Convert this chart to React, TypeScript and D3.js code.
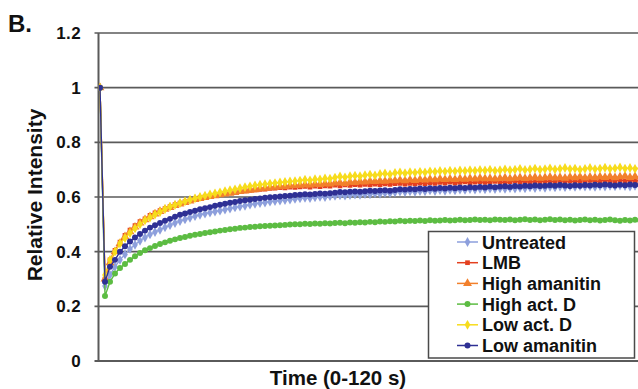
import React from "react";
import * as d3 from "d3";

// Relative intensity per frame (frame index 0..108)
const untreated = [1,
  .274,.315,.345,.37,.39,.41,.425,.44,.452,.463,
  .472,.48,.489,.497,.505,.512,.518,.524,.530,.535,
  .539,.543,.547,.550,.554,.558,.562,.565,.568,.572,
  .575,.578,.580,.583,.585,.587,.589,.591,.593,.595,
  .597,.596,.599,.601,.600,.603,.604,.606,.605,.607,
  .609,.608,.611,.610,.613,.612,.615,.614,.617,.620,
  .618,.621,.619,.622,.621,.624,.622,.625,.623,.626,
  .624,.627,.626,.629,.627,.630,.628,.631,.629,.632,
  .630,.633,.631,.634,.632,.635,.633,.636,.634,.637,
  .635,.638,.636,.639,.637,.640,.638,.639,.637,.640,
  .638,.641,.639,.642,.640,.638,.641,.640];
const lmb = [1,
  .30,.37,.405,.435,.46,.479,.495,.51,.52,.533,
  .542,.55,.558,.565,.572,.578,.583,.588,.593,.598,
  .601,.604,.607,.610,.613,.615,.618,.620,.622,.624,
  .626,.628,.629,.631,.632,.634,.633,.636,.635,.637,
  .639,.636,.640,.638,.641,.640,.643,.641,.644,.642,
  .645,.643,.646,.644,.647,.645,.648,.646,.649,.650,
  .647,.650,.648,.651,.649,.652,.650,.653,.651,.654,
  .651,.653,.655,.652,.654,.656,.653,.655,.657,.655,
  .653,.656,.658,.655,.657,.654,.658,.656,.659,.656,
  .658,.660,.657,.659,.656,.660,.658,.661,.657,.659,
  .661,.658,.660,.662,.659,.661,.658,.660];
const highAmanitin = [1,
  .30,.36,.40,.43,.455,.473,.49,.505,.517,.528,
  .538,.547,.555,.562,.569,.575,.580,.586,.591,.595,
  .598,.602,.605,.608,.611,.614,.617,.620,.622,.625,
  .627,.630,.632,.634,.636,.638,.639,.641,.642,.643,
  .645,.644,.647,.646,.649,.648,.651,.652,.650,.654,
  .653,.656,.655,.658,.657,.659,.658,.661,.660,.662,
  .660,.663,.661,.664,.662,.665,.663,.666,.664,.666,
  .664,.667,.665,.668,.666,.669,.667,.668,.666,.668,
  .670,.667,.669,.671,.668,.670,.672,.669,.671,.673,
  .670,.672,.669,.673,.671,.674,.670,.673,.671,.674,
  .672,.675,.671,.674,.676,.672,.675,.673];
const highActD = [1,
  .238,.29,.32,.34,.355,.37,.383,.395,.405,.413,
  .421,.428,.434,.44,.445,.45,.454,.458,.462,.465,
  .468,.471,.474,.477,.479,.482,.484,.487,.488,.490,
  .491,.493,.494,.495,.496,.497,.498,.499,.500,.500,
  .502,.501,.503,.502,.504,.503,.505,.506,.504,.507,
  .506,.508,.507,.509,.508,.510,.509,.511,.510,.513,
  .511,.513,.512,.514,.512,.515,.513,.514,.516,.514,
  .515,.517,.515,.516,.518,.516,.517,.515,.518,.517,
  .516,.518,.515,.517,.519,.516,.518,.515,.517,.519,
  .516,.518,.515,.517,.514,.516,.518,.515,.517,.514,
  .516,.518,.515,.513,.516,.514,.517,.515];
const lowActD = [1,
  .315,.37,.40,.43,.45,.468,.485,.50,.515,.525,
  .536,.545,.556,.565,.571,.578,.584,.590,.595,.600,
  .605,.609,.613,.617,.621,.625,.628,.632,.636,.639,
  .642,.645,.647,.649,.651,.653,.655,.657,.658,.660,
  .663,.661,.665,.664,.668,.667,.671,.675,.672,.676,
  .678,.676,.680,.682,.679,.684,.686,.683,.688,.690,
  .687,.691,.689,.692,.690,.694,.692,.695,.693,.696,
  .694,.697,.695,.698,.696,.699,.697,.700,.696,.698,
  .701,.698,.700,.703,.699,.701,.704,.700,.702,.705,
  .701,.703,.706,.702,.704,.700,.703,.706,.702,.704,
  .707,.703,.705,.708,.704,.706,.703,.705];
const lowAmanitin = [1,
  .29,.345,.37,.40,.42,.437,.452,.465,.477,.488,
  .497,.505,.513,.52,.528,.535,.540,.545,.550,.555,
  .559,.563,.568,.572,.575,.579,.582,.585,.588,.590,
  .593,.595,.597,.599,.600,.602,.604,.605,.607,.608,
  .610,.609,.611,.613,.612,.614,.616,.618,.617,.619,
  .620,.619,.621,.623,.622,.624,.625,.623,.626,.628,
  .627,.629,.628,.631,.629,.632,.630,.633,.631,.634,
  .632,.635,.633,.636,.634,.637,.635,.638,.636,.638,
  .639,.637,.640,.638,.641,.639,.642,.640,.641,.643,
  .641,.644,.642,.640,.643,.641,.644,.642,.645,.643,
  .646,.644,.642,.645,.643,.646,.644,.645];

const seriesNames = ["Untreated", "LMB", "High amanitin", "High act. D", "Low act. D", "Low amanitin"];
const seriesValues = [untreated, lmb, highAmanitin, highActD, lowActD, lowAmanitin];
const seriesColors = ["#8d9fdc", "#e4401f", "#f2802c", "#5cbc42", "#f7dc1c", "#2e3094"];
const seriesSymbols = [d3.symbolDiamond, d3.symbolSquare, d3.symbolTriangle, d3.symbolCircle, d3.symbolDiamond, d3.symbolCircle];
const yTicks = [0, 0.2, 0.4, 0.6, 0.8, 1, 1.2];

const W = 638, H = 389;
const FONT = "'Liberation Sans', Arial, sans-serif";

export default function App() {
  const n = untreated.length;
  const x = d3.scaleLinear().domain([0, n - 1]).range([100, 640]);
  const y = d3.scaleLinear().domain([0, 1.2]).range([361, 33]);
  const line = d3.line<number>().x((_, i) => x(i)).y((v) => y(v));
  const axisX = 98.5;
  const sym = (s: number) =>
    d3.symbol(seriesSymbols[s], seriesSymbols[s] === d3.symbolTriangle ? 34 : seriesSymbols[s] === d3.symbolSquare ? 22 : 28)() || "";

  return (
    <svg width={W} height={H} style={{ position: "absolute", left: 0, top: 0, background: "#fff" }}>
      <defs>
        <clipPath id="plot">
          <rect x={axisX} y={20} width={W - axisX} height={345} />
        </clipPath>
      </defs>
      {/* gridlines */}
      {yTicks.map((t) => (
        <g key={t}>
          <line x1={axisX - 4} x2={W} y1={y(t)} y2={y(t)} stroke="#5a5a5a" strokeWidth={t === 0 ? 2 : 1.6} />
          <text x={81} y={y(t) + 6} textAnchor="end" fontFamily={FONT} fontWeight="bold" fontSize={17} letterSpacing={0.4} fill="#111">
            {d3.format("")(t)}
          </text>
        </g>
      ))}
      <line x1={axisX} x2={axisX} y1={y(1.2)} y2={y(0) + 1} stroke="#5a5a5a" strokeWidth={2} />
      {/* series */}
      <g clipPath="url(#plot)">
        {seriesValues.map((vals, s) => (
          <g key={s}>
            <path d={line(vals) || ""} fill="none" stroke={seriesColors[s]} strokeWidth={1.4} />
            {vals.map((v, i) => (
              <path key={i} transform={`translate(${x(i)},${y(v)})`} d={sym(s)} fill={seriesColors[s]} />
            ))}
          </g>
        ))}
      </g>
      {/* legend */}
      <rect x={428.5} y={231.5} width={206} height={126.5} fill="#fff" stroke="#4a4a4a" strokeWidth={1.5} />
      {seriesNames.map((name, s) => {
        const cy = 242 + s * 20.7;
        return (
          <g key={name}>
            <line x1={457} x2={478} y1={cy} y2={cy} stroke={seriesColors[s]} strokeWidth={1.5} />
            <path transform={`translate(467.5,${cy})`} d={sym(s)} fill={seriesColors[s]} />
            <text x={482} y={cy + 6.5} fontFamily={FONT} fontWeight="bold" fontSize={18} fill="#111">
              {name}
            </text>
          </g>
        );
      })}
      {/* titles */}
      <text x={8} y={32} fontFamily={FONT} fontWeight="bold" fontSize={24} fill="#111">B.</text>
      <text
        transform={`translate(42,${195}) rotate(-90)`}
        textAnchor="middle"
        fontFamily={FONT}
        fontWeight="bold"
        fontSize={21}
        fill="#111"
      >
        Relative Intensity
      </text>
      <text x={338} y={385} textAnchor="middle" fontFamily={FONT} fontWeight="bold" fontSize={20.5} fill="#111">
        Time (0-120 s)
      </text>
    </svg>
  );
}
